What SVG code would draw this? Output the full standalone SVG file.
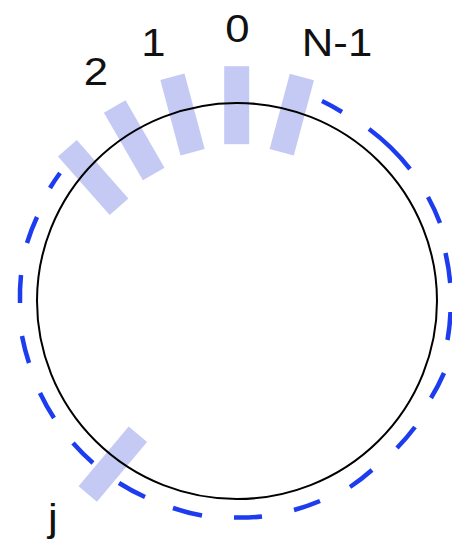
<svg xmlns="http://www.w3.org/2000/svg" width="452" height="541" viewBox="0 0 452 541">
  <style>
    .dash { fill: none; stroke: #1d3cf0; stroke-width: 4.5; stroke-linecap: butt; }
    .slot { fill: #c5caf4; }
    .ring { fill: none; stroke: #000; stroke-width: 2; }
    .lbl { font-family: "Liberation Sans", Arial, sans-serif; font-size: 39px; fill: #111; text-anchor: middle; }
  </style>
  <rect width="452" height="541" fill="#fff"/>
  <g id="connectors">
    <g id="dashed-ring">
      <path class="dash" d="M322 101 A216 216 0 0 1 342 112"/>
      <path class="dash" d="M369 129 A216 216 0 0 1 410 169"/>
      <path class="dash" d="M428 197 A216 216 0 0 1 440 223"/>
      <path class="dash" d="M445.5 253 A216 216 0 0 1 450.2 283"/>
      <path class="dash" d="M450.5 312 A216 216 0 0 1 447.5 340"/>
      <path class="dash" d="M444 373 A216 216 0 0 1 431 398"/>
      <path class="dash" d="M415 427 A216 216 0 0 1 397 448"/>
      <path class="dash" d="M372 470 A216 216 0 0 1 350 487"/>
      <path class="dash" d="M320 501 A216 216 0 0 1 294 510"/>
      <path class="dash" d="M262 516.5 A216 216 0 0 1 234 517.5"/>
      <path class="dash" d="M202 515.5 A216 216 0 0 1 173 508"/>
      <path class="dash" d="M145 497 A216 216 0 0 1 119 483"/>
      <path class="dash" d="M93 463 A216 216 0 0 1 73 443"/>
      <path class="dash" d="M54 418 A216 216 0 0 1 40 393"/>
      <path class="dash" d="M29 363 A216 216 0 0 1 22 336"/>
      <path class="dash" d="M20 303 A216 216 0 0 1 21 275"/>
      <path class="dash" d="M27 243 A216 216 0 0 1 37 217"/>
      <path class="dash" d="M50 188 A216 216 0 0 1 60 173"/>
    </g>
  </g>
  <g id="slot-0"><rect class="slot" x="-12.5" y="-39" width="25" height="78" transform="translate(236.7 105.2)"/></g>
  <g id="slot-N-1"><rect class="slot" x="-12.5" y="-39" width="25" height="78" transform="translate(291.8 114.6) rotate(15)"/></g>
  <g id="slot-1"><rect class="slot" x="-12.5" y="-39" width="25" height="78" transform="translate(182.5 114.5) rotate(-15)"/></g>
  <g id="slot-2"><rect class="slot" x="-12.5" y="-39" width="25" height="78" transform="translate(134.2 140.3) rotate(-30)"/></g>
  <g id="slot-3"><rect class="slot" x="-12.5" y="-39" width="25" height="78" transform="translate(93.2 177.5) rotate(-41.5)"/></g>
  <g id="slot-j"><rect class="slot" x="-12" y="-39" width="24" height="78" transform="translate(112.8 464.2) rotate(40)"/></g>
  <g id="ring"><ellipse class="ring" cx="237" cy="301" rx="200" ry="198"/></g>
  <g id="label-0"><text class="lbl" transform="translate(237.5 41.7) scale(1.12 1)">0</text></g>
  <g id="label-N-1"><text class="lbl" transform="translate(337 56) scale(1.12 1)">N-1</text></g>
  <g id="label-1"><text class="lbl" transform="translate(153.3 56) scale(1.12 1)">1</text></g>
  <g id="label-2"><text class="lbl" transform="translate(95.8 85) scale(1.12 1)">2</text></g>
  <g id="label-j"><text class="lbl" style="text-anchor:start" transform="translate(48 531) scale(1.12 1)">j</text></g>
</svg>
